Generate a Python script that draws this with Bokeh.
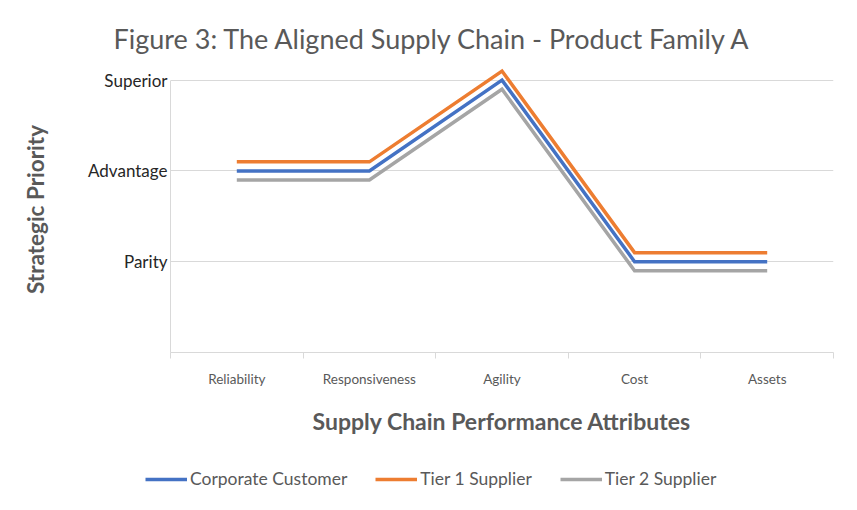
from bokeh.plotting import figure
from bokeh.layouts import column
from bokeh.models import Range1d, FixedTicker, Legend, LegendItem
from bokeh.embed import file_html
from bokeh.resources import INLINE

categories = ["Reliability", "Responsiveness", "Agility", "Cost", "Assets"]
priority_labels = {1: "Parity", 2: "Advantage", 3: "Superior"}
corporate_customer = [2.0, 2.0, 3.0, 1.0, 1.0]
tier1_supplier = [2.1, 2.1, 3.1, 1.1, 1.1]
tier2_supplier = [1.9, 1.9, 2.9, 0.9, 0.9]
series_names = ["Corporate Customer", "Tier 1 Supplier", "Tier 2 Supplier"]
series_colors = ["#4472C4", "#ED7D31", "#A5A5A5"]
series_values = [corporate_customer, tier1_supplier, tier2_supplier]

FONT = "Lato"
GRAY_TXT = "#595959"
GRID = "#D9D9D9"

xs = [i + 0.5 for i in range(len(categories))]

p = figure(width=841, height=455, output_backend="svg", toolbar_location=None,
           x_range=Range1d(0, len(categories)), y_range=Range1d(0, 3.15),
           min_border_left=170, min_border_right=8, min_border_top=66,
           min_border_bottom=103)
p.outline_line_color = None
p.background_fill_color = "white"
p.border_fill_color = "white"

p.title.text = "Figure 3: The Aligned Supply Chain - Product Family A"
p.title.align = "left"
p.title.offset = -57
p.title.text_font = FONT
p.title.text_font_size = "27px"
p.title.text_font_style = "normal"
p.title.text_color = GRAY_TXT
p.title.standoff = 24

# x axis: labels at category centres, tick marks at boundaries
p.xaxis.ticker = FixedTicker(ticks=xs, minor_ticks=list(range(len(categories) + 1)))
p.xaxis.major_label_overrides = {x: c for x, c in zip(xs, categories)}
p.xaxis.major_tick_line_color = None
p.xaxis.minor_tick_line_color = GRID
p.xaxis.minor_tick_out = 6
p.xaxis.minor_tick_in = 0
p.xaxis.axis_line_color = GRID
p.xaxis.major_label_text_font = FONT
p.xaxis.major_label_text_font_size = "13.5px"
p.xaxis.major_label_text_color = GRAY_TXT
p.xaxis.major_label_standoff = 12
p.xaxis.axis_label = "Supply Chain Performance Attributes"
p.xaxis.axis_label_text_font = FONT
p.xaxis.axis_label_text_font_size = "23px"
p.xaxis.axis_label_text_font_style = "bold"
p.xaxis.axis_label_text_color = GRAY_TXT
p.xaxis.axis_label_standoff = 17
p.xgrid.grid_line_color = None

p.yaxis.ticker = FixedTicker(ticks=list(priority_labels.keys()))
p.yaxis.bounds = (0, max(priority_labels.keys()))
p.yaxis.major_label_overrides = priority_labels
p.yaxis.major_tick_line_color = None
p.yaxis.minor_tick_line_color = None
p.yaxis.axis_line_color = GRID
p.yaxis.major_label_text_font = FONT
p.yaxis.major_label_text_font_size = "17px"
p.yaxis.major_label_text_color = "#262626"
p.yaxis.major_label_standoff = -3
p.yaxis.axis_label = "Strategic Priority"
p.yaxis.axis_label_text_font = FONT
p.yaxis.axis_label_text_font_size = "22.5px"
p.yaxis.axis_label_text_font_style = "bold"
p.yaxis.axis_label_text_color = GRAY_TXT
p.yaxis.axis_label_standoff = 36
p.ygrid.grid_line_color = GRID

for vals, col in zip(series_values, series_colors):
    p.line(xs, vals, line_color=col, line_width=3.5, line_join="miter")

# legend strip (its own lines lie outside its visible range)
lg = figure(width=841, height=39, output_backend="svg", toolbar_location=None,
            min_border=0, x_range=Range1d(0, len(categories)),
            y_range=Range1d(100, 101))
lg.axis.visible = False
lg.grid.visible = False
lg.outline_line_color = None
legend_x = 0
if "frame_align" in lg.properties():
    lg.frame_align = False
    legend_x = 145
items = []
for name, vals, col in zip(series_names, series_values, series_colors):
    r = lg.line(xs, vals, line_color=col, line_width=3.5)
    items.append(LegendItem(label=name, renderers=[r]))
legend = Legend(items=items, orientation="horizontal", location=(legend_x, 5),
                glyph_width=42, glyph_height=18, label_standoff=3, spacing=28,
                padding=0, margin=0, border_line_color=None,
                background_fill_alpha=0,
                label_text_font=FONT, label_text_font_size="17.5px",
                label_text_color=GRAY_TXT)
lg.add_layout(legend, "center")

open("out.html", "w").write(file_html(column(p, lg, spacing=0), INLINE))
